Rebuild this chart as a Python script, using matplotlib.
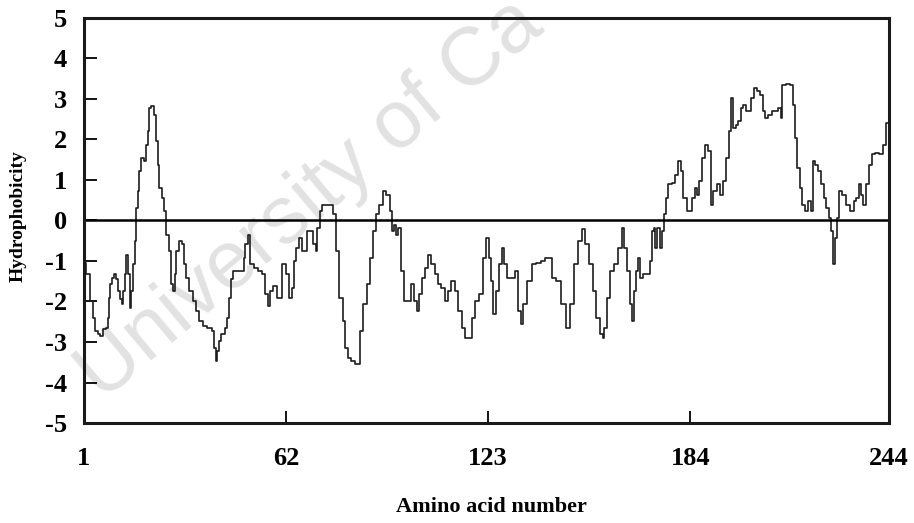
import matplotlib.pyplot as plt

# hydrophobicity profile
residue = [1.0, 2.2, 3.2, 4.0, 4.7, 5.7, 6.2, 7.2, 8.0, 8.3, 8.8, 9.1, 9.8, 10.3, 11.1,
           11.5, 12.1, 12.6, 13.0, 13.5, 14.1, 14.5, 15.1, 15.5, 16.1, 16.5, 17.1, 17.5,
           17.8, 18.5, 19.5, 20.1, 20.5, 20.8, 21.8, 22.3, 23.0, 23.4, 23.9, 24.9, 25.6,
           26.2, 26.9, 27.6, 28.1, 28.6, 29.2, 30.2, 30.9, 31.4, 32.2, 33.4, 34.4, 35.4,
           36.2, 37.5, 39.0, 40.0, 40.5, 41.0, 41.5, 42.0, 43.0, 44.0, 44.5, 45.0, 45.5,
           46.5, 49.0, 49.5, 50.0, 50.8, 51.6, 53.1, 54.1, 55.1, 56.1, 56.9, 57.6, 58.6,
           59.8, 61.6, 62.6, 63.4, 64.1, 64.8, 65.5, 66.2, 67.7, 68.7, 69.7, 70.7, 71.2,
           71.7, 72.5, 73.2, 75.7, 76.5, 77.5, 78.7, 79.5, 80.3, 81.0, 82.2, 83.7, 84.7,
           85.8, 86.8, 87.8, 88.8, 89.6, 90.8, 91.8, 92.8, 93.8, 94.3, 94.8, 95.3, 96.3,
           97.3, 97.8, 99.3, 100.4, 101.1, 101.9, 102.4, 103.4, 104.4, 105.4, 106.4, 107.4,
           108.4, 109.4, 110.4, 111.4, 112.4, 113.5, 114.5, 115.5, 116.5, 118.0, 118.5,
           119.5, 121.0, 122.0, 122.8, 123.5, 124.2, 125.0, 125.8, 126.8, 127.5, 128.3,
           129.1, 130.6, 131.6, 132.6, 133.1, 134.1, 135.6, 136.6, 138.1, 139.6, 140.6,
           141.6, 142.7, 144.2, 145.7, 147.2, 148.2, 149.7, 150.7, 151.7, 152.7, 154.2,
           155.2, 156.2, 157.3, 157.8, 158.3, 159.3, 160.3, 161.8, 162.8, 163.8, 164.5,
           165.3, 166.3, 166.8, 167.3, 167.8, 168.5, 169.3, 170.4, 171.6, 172.2, 172.7,
           173.2, 173.6, 174.4, 175.2, 175.6, 176.4, 176.9, 177.9, 178.9, 179.9, 180.9,
           181.4, 182.4, 183.4, 184.3, 185.0, 185.7, 186.3, 187.0, 188.0, 189.0, 190.0,
           190.5, 191.5, 192.5, 193.5, 194.5, 195.3, 196.0, 196.5, 197.3, 198.1, 198.8,
           199.6, 200.4, 201.1, 202.1, 202.8, 203.6, 204.6, 205.6, 206.3, 207.1, 208.1,
           209.1, 210.1, 211.1, 211.6, 212.1, 213.7, 214.7, 215.2, 215.9, 216.7, 217.5,
           218.2, 219.2, 220.2, 220.9, 221.4, 222.2, 223.2, 223.9, 224.7, 225.5, 226.2,
           226.9, 227.6, 228.0, 228.6, 229.3, 230.3, 231.6, 232.8, 233.8, 234.6, 235.3,
           235.8, 236.6, 237.6, 238.3, 239.3, 240.3, 241.9, 242.4, 244.0]
hydro = [-1.05, -1.33, -1.99, -2.40, -2.73, -2.81, -2.85, -2.69, -2.65, -2.40, -1.91, -1.58,
         -1.41, -1.33, -1.45, -1.74, -1.95, -2.07, -1.74, -1.33, -0.84, -1.33, -2.15, -1.74,
         -1.08, -0.51, 0.31, 0.72, 1.22, 1.54, 1.46, 1.87, 2.20, 2.78, 2.82, 2.61, 1.96,
         1.38, 0.81, 0.56, 0.23, -0.35, -0.76, -1.58, -1.74, -1.33, -0.76, -0.51, -0.59,
         -1.08, -1.41, -1.74, -1.99, -2.23, -2.48, -2.60, -2.65, -2.73, -3.14, -3.47, -3.22,
         -2.97, -2.81, -2.65, -2.40, -1.91, -1.45, -1.25, -1.25, -0.92, -0.59, -0.35, -1.08,
         -1.17, -1.25, -1.33, -1.82, -2.11, -1.74, -1.62, -1.91, -1.08, -1.33, -1.91, -1.66,
         -1.00, -0.67, -0.43, -0.76, -0.26, -0.26, -0.59, -0.76, -0.18, 0.23, 0.39, 0.39,
         0.15, -0.76, -1.91, -2.48, -3.14, -3.39, -3.47, -3.55, -2.73, -2.07, -1.58, -0.92,
         -0.26, 0.15, 0.39, 0.72, 0.64, 0.23, -0.26, -0.10, -0.35, -0.18, -1.25, -1.99,
         -1.99, -1.58, -1.99, -2.23, -1.82, -1.41, -1.17, -0.84, -1.08, -1.33, -1.58, -1.66,
         -1.99, -1.74, -1.50, -1.74, -2.23, -2.65, -2.89, -2.89, -2.40, -1.99, -1.82, -0.92,
         -0.43, -0.92, -1.50, -2.32, -1.74, -1.08, -0.67, -1.08, -1.41, -1.41, -1.25, -2.23,
         -2.56, -2.07, -1.50, -1.08, -1.04, -1.00, -0.92, -0.92, -1.41, -1.50, -2.07, -2.65,
         -2.07, -1.08, -0.51, -0.22, -0.59, -1.08, -1.74, -2.40, -2.81, -2.89, -2.65, -1.91,
         -1.25, -1.08, -0.67, -0.18, -0.67, -1.25, -2.07, -2.48, -1.74, -1.25, -0.92, -1.41,
         -1.33, -1.33, -1.00, -0.26, -0.18, -0.67, -0.18, -0.67, -0.26, 0.15, 0.56, 0.89,
         0.93, 1.13, 1.46, 1.22, 0.56, 0.23, 0.23, 0.56, 0.81, 0.64, 0.97, 1.54, 1.87, 1.71,
         0.39, 0.72, 0.89, 0.64, 0.97, 1.54, 2.20, 3.02, 2.28, 2.37, 2.45, 2.78, 2.86, 2.70,
         2.70, 3.02, 3.27, 3.19, 3.11, 2.70, 2.53, 2.61, 2.70, 2.70, 2.78, 2.53, 3.35, 3.37,
         3.35, 2.86, 2.04, 1.30, 0.81, 0.39, 0.23, 0.48, 0.23, 1.46, 1.38, 1.22, 0.89, 0.56,
         0.31, 0.07, -0.26, -1.08, -0.43, 0.07, 0.72, 0.64, 0.39, 0.23, 0.48, 0.56, 0.89,
         0.64, 0.39, 0.89, 1.38, 1.63, 1.67, 1.63, 1.87, 2.40]

xticks = [1, 62, 123, 184, 244]
yticks = [-5, -4, -3, -2, -1, 0, 1, 2, 3, 4, 5]

plt.rcParams['font.family'] = ['Liberation Serif', 'DejaVu Serif']
plt.rcParams['axes.unicode_minus'] = False

fig = plt.figure(figsize=(9.14, 5.23), dpi=100)
ax = fig.add_axes([0.0919, 0.1912, 0.8807, 0.7744])
ax.patch.set_alpha(0)

# watermark behind the plot (runs off the top edge like in the scan)
fig.text(0.112, 0.232, 'University of Ca', rotation=40, rotation_mode='anchor',
         ha='left', va='baseline', fontsize=59, color='#e2e2e2',
         family='Liberation Sans', zorder=-1)

ax.plot(residue, hydro, color='#1c1c1c', lw=1.2, drawstyle='steps-mid')
ax.axhline(0, color='black', lw=1.8)

ax.set_xlim(1, 244)
ax.set_ylim(-5, 5)
ax.set_xticks(xticks)
ax.set_yticks(yticks)
ax.tick_params(axis='y', direction='in', length=9.5, width=1.3, pad=12, labelsize=19)
ax.tick_params(axis='x', direction='in', length=9, width=1.3, pad=17, labelsize=19)
for lab in ax.get_xticklabels() + ax.get_yticklabels():
    lab.set_fontweight('bold')
for sp in ax.spines.values():
    sp.set_linewidth(2.2)
    sp.set_color('#1a1a1a')

fig.text(0.0197, 0.587, 'Hydrophobicity', rotation=90, ha='center', va='center',
         fontsize=14, fontweight='bold')
fig.text(0.538, 0.031, 'Amino acid number', ha='center', va='center',
         fontsize=16, fontweight='bold')

fig.savefig('out.png', dpi=100)
